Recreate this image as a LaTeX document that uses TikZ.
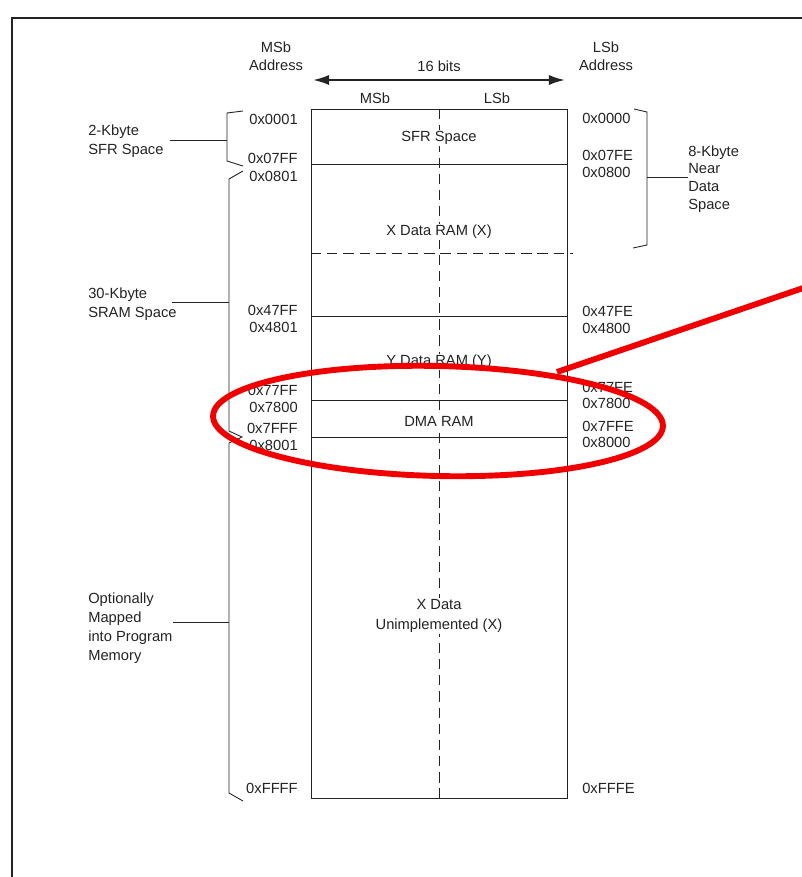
\documentclass[tikz,border=0pt]{standalone}
\usepackage{fontspec}
\setmainfont{Liberation Sans}
\usetikzlibrary{positioning}
\usetikzlibrary{arrows.meta}
\definecolor{ink}{RGB}{35,35,35}
\definecolor{marker}{RGB}{240,0,0}

\begin{document}
\begin{tikzpicture}[
    x=0.68pt, y=-0.68pt,
    lbl/.style={font=\fontsize{10}{12}\selectfont, text=ink, inner sep=0pt},
    addr/.style={lbl},
    side/.style={lbl, align=left, font=\fontsize{10}{13}\selectfont},
    region/.style={lbl, align=center, fill=white, inner sep=1pt, yshift=-1.3pt, font=\fontsize{10}{14}\selectfont},
    rule/.style={draw=ink, line width=0.6pt},
    split/.style={draw=ink, line width=0.6pt, dash pattern=on 7pt off 4pt},
    >={Latex[length=11pt, width=7pt]}
]
    \useasboundingbox (0,0) rectangle (802,877);
    \draw[ink, line width=1.4pt] (12,877) -- (12,18) -- (802,18);

    % memory block
    \coordinate (top) at (311,109);
    \coordinate (bot) at (567,798);
    \draw[split] (439,109) -- (439,798);
    \draw[rule] (top) rectangle (bot);
    \draw[rule] (311,164) -- (567,164);
    \draw[split] (311,253) -- (573,253);
    \draw[rule] (311,316) -- (567,316);
    \draw[rule] (311,400) -- (567,400);
    \draw[rule] (311,437) -- (567,437);

    \node[region] (sfr) at (439,136) {SFR Space};
    \node[region] (xram) at (439,230) {X Data RAM (X)};
    \node[region] (yram) at (439,360) {Y Data RAM (Y)};
    \node[region] (dma) at (439,420) {DMA RAM};
    \node[region] (xun) at (439,614) {X Data\\Unimplemented (X)};

    % width arrow and column heads
    \node[lbl, align=center] (msbaddr) at (276,56) {MSb\\Address};
    \node[lbl, align=center] (lsbaddr) at (606,56) {LSb\\Address};
    \coordinate (arrL) at (313,80);
    \coordinate (arrR) at (565,80);
    \draw[<->, ink, line width=1.5pt] (arrL) -- node[lbl, above=5pt] (bits) {16 bits} (arrR);
    \node[lbl] (msb) at (375,98) {MSb};
    \node[lbl] (lsb) at (497,98) {LSb};

    % addresses
    \node[addr, anchor=east] (a0001) at (298,119) {0x0001};
    \node[addr, anchor=east] (a07FF) at (298,158) {0x07FF};
    \node[addr, anchor=east] (a0801) at (298,176) {0x0801};
    \node[addr, anchor=east] (a47FF) at (298,310) {0x47FF};
    \node[addr, anchor=east] (a4801) at (298,327) {0x4801};
    \node[addr, anchor=east] (a77FF) at (298,390) {0x77FF};
    \node[addr, anchor=east] (a7800) at (298,407) {0x7800};
    \node[addr, anchor=east] (a7FFF) at (298,428) {0x7FFF};
    \node[addr, anchor=east] (a8001) at (298,445) {0x8001};
    \node[addr, anchor=east] (aFFFF) at (298,788) {0xFFFF};

    \node[addr, anchor=west] (b0000) at (582,118) {0x0000};
    \node[addr, anchor=west] (b07FE) at (582,155) {0x07FE};
    \node[addr, anchor=west] (b0800) at (582,172) {0x0800};
    \node[addr, anchor=west] (b47FE) at (582,311) {0x47FE};
    \node[addr, anchor=west] (b4800) at (582,328) {0x4800};
    \node[addr, anchor=west] (b77FE) at (582,387) {0x77FE};
    \node[addr, anchor=west] (b7800) at (582,403) {0x7800};
    \node[addr, anchor=west] (b7FFE) at (582,426) {0x7FFE};
    \node[addr, anchor=west] (b8000) at (582,442) {0x8000};
    \node[addr, anchor=west] (bFFFE) at (582,788) {0xFFFE};

    % brackets
    \draw[rule] (243,111) -- (227,113) -- (227,161) -- (243,166);
    \draw[rule] (243,171) -- (229,179) -- (229,431) -- (242,437) -- (229,443) -- (229,793) -- (243,801);
    \draw[rule] (634,109) -- (647,112) -- (647,245) -- (633,248);
    \coordinate (sfrb) at (227,140);
    \coordinate (sramb) at (229,302);
    \coordinate (optb) at (229,622);
    \coordinate (nearb) at (647,177);
    \coordinate (sfrlead) at (170,140);
    \coordinate (sramlead) at (172,302);
    \coordinate (optlead) at (173,622);

    \node[side, anchor=west] (sfrspace) at (88,141) {2-Kbyte\\SFR Space};
    \node[side, anchor=west] (sramspace) at (88,304) {30-Kbyte\\SRAM Space};
    \node[side, anchor=west] (optmap) at (88,628) {Optionally\\Mapped\\into Program\\Memory};
    \node[lbl, align=left, anchor=west] (nearspace) at (688,179) {8-Kbyte\\Near\\Data\\Space};

    \draw[rule] (sfrlead) -- (sfrb);
    \draw[rule] (sramlead) -- (sramb);
    \draw[rule] (optlead) -- (optb);
    \draw[rule] (nearb) -- (nearspace.west |- nearb);

    % red highlight
    \draw[marker, line width=4pt, rotate around={-1.3:(438,421)}] (438,421) ellipse [x radius=225, y radius=55];
    \coordinate (callout) at (557,372);
    \coordinate (offpage) at (812,285);
    \draw[marker, line width=4pt] (callout) -- (offpage);
\end{tikzpicture}
\end{document}
